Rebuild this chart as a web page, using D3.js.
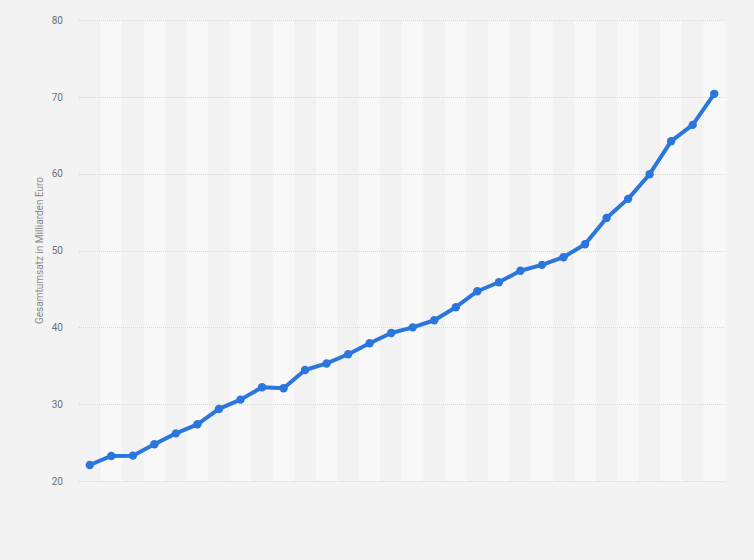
<!DOCTYPE html>
<html>
<head>
<meta charset="utf-8">
<script src="https://cdn.jsdelivr.net/npm/d3@7/dist/d3.min.js"></script>
<style>
  html, body { margin: 0; padding: 0; background: #f3f3f3; }
  svg { display: block; }
</style>
</head>
<body>
<svg id="chart" width="754" height="560"></svg>
<script>
const categories = d3.range(1, 31).map(i => "P" + i);
const values = [22.08, 23.26, 23.3, 24.78, 26.2, 27.38, 29.38, 30.59, 32.2, 32.07,
  34.45, 35.3, 36.5, 37.93, 39.27, 40.0, 40.92, 42.62, 44.7, 45.87,
  47.36, 48.13, 49.13, 50.82, 54.24, 56.72, 59.93, 64.23, 66.35, 70.39];
const yTicks = [20, 30, 40, 50, 60, 70, 80];
const yTitle = "Gesamtumsatz in Milliarden Euro";

const svg = d3.select("#chart");
const margin = {left: 79, right: 29, top: 20, bottom: 79};
const W = 754, H = 560;

const x = d3.scaleBand().domain(categories).range([margin.left, W - margin.right]).padding(0);
const y = d3.scaleLinear().domain([20, 80]).range([H - margin.bottom, margin.top]);

// stripes
svg.append("g").selectAll("rect").data(categories).join("rect")
  .attr("x", d => x(d)).attr("width", x.bandwidth())
  .attr("y", margin.top).attr("height", y(20) - margin.top)
  .attr("fill", (d, i) => i % 2 ? "#f8f8f8" : "#f2f2f2");

// grid + axis
const yAxis = d3.axisLeft(y).tickValues(yTicks).tickSize(-(W - margin.left - margin.right)).tickPadding(16);
const ga = svg.append("g").attr("transform", `translate(${margin.left},0)`).call(yAxis);
ga.select(".domain").remove();
ga.selectAll(".tick line").attr("stroke", "#d6d6d6").attr("stroke-dasharray", "1,1").attr("shape-rendering", "crispEdges");
ga.selectAll(".tick text").attr("fill", "#707070").attr("font-size", "10px").attr("font-family", "Roboto, Arial, sans-serif");

// y title
svg.append("text")
  .attr("transform", `translate(43,${(y(20) + y(80)) / 2}) rotate(-90)`)
  .attr("text-anchor", "middle")
  .attr("fill", "#8a8a8a").attr("font-size", "10px").attr("font-family", "Roboto, Arial, sans-serif")
  .text(yTitle);

const cx = d => x(d) + x.bandwidth() / 2;
const data = categories.map((c, i) => ({c, v: values[i]}));

svg.append("path").datum(data)
  .attr("fill", "none").attr("stroke", "#2a76dd").attr("stroke-width", 4)
  .attr("stroke-linejoin", "round")
  .attr("d", d3.line().x(d => cx(d.c)).y(d => y(d.v)));

svg.append("g").selectAll("circle").data(data).join("circle")
  .attr("cx", d => cx(d.c)).attr("cy", d => y(d.v)).attr("r", 4.2)
  .attr("fill", "#2a76dd");
</script>
</body>
</html>
